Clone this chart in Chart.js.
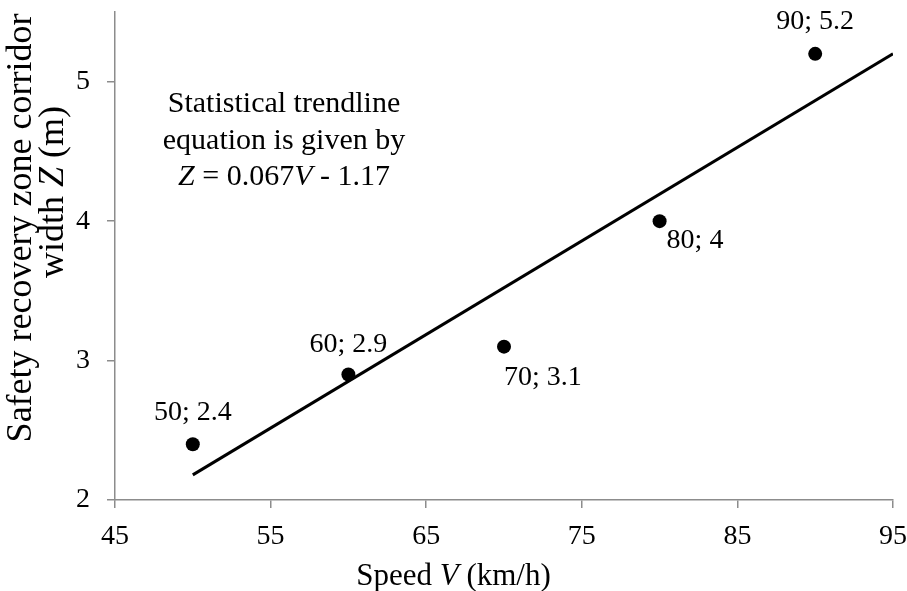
<!DOCTYPE html>
<html>
<head>
<meta charset="utf-8">
<script src="https://cdn.jsdelivr.net/npm/chart.js@4"></script>
<style>
  html, body { margin: 0; padding: 0; background: #fff; }
  #wrap { width: 907px; height: 591px; }
</style>
</head>
<body>
<div id="wrap"><canvas id="grafico" width="907" height="591"></canvas></div>
<script>
'use strict';

// Valori
const speedV = [50, 60, 70, 80, 90];
const widthZ = [2.4, 2.9, 3.1, 4, 5.2];
const pointLabels = ['50; 2.4', '60; 2.9', '70; 3.1', '80; 4', '90; 5.2'];

// Trendline Z = 0.067V - 1.17 (estremi come nel grafico)
const trendV = [50, 95];
const trendZ = [2.18, 5.2];

const xTicks = [45, 55, 65, 75, 85, 95];
const yTicks = [2, 3, 4, 5];

// Testi
const noteLines = ['Statistical trendline', 'equation is given by'];
const noteEquation = [['Z', true], [' = 0.067', false], ['V', true], [' - 1.17', false]];
const xTitle = [['Speed ', false], ['V', true], [' (km/h)', false]];
const yTitle1 = [['Safety recovery zone corridor', false]];
const yTitle2 = [['width ', false], ['Z', true], [' (m)', false]];

// Stile
const FONT = "'Liberation Serif', 'Times New Roman', serif";
const axisGray = '#8c8c8c';
const labelAlign = ['center', 'center', 'left', 'left', 'center'];
const labelDx = [0, 0, 0, 7, 0];
const labelDy = [-24, -23, 38, 27, -25];

// Testo con parti in corsivo
function drawRich(ctx, parts, x, y, size, align) {
  const fonts = parts.map(p => (p[1] ? 'italic ' : '') + size + 'px ' + FONT);
  let total = 0;
  const widths = parts.map((p, i) => { ctx.font = fonts[i]; const w = ctx.measureText(p[0]).width; total += w; return w; });
  let cx = align === 'center' ? x - total / 2 : (align === 'right' ? x - total : x);
  ctx.textAlign = 'left';
  ctx.textBaseline = 'alphabetic';
  parts.forEach((p, i) => {
    ctx.font = fonts[i];
    ctx.fillText(p[0], cx, y);
    cx += widths[i];
  });
}

const textPlugin = {
  id: 'testi',
  afterDatasetsDraw(chart) {
    const ctx = chart.ctx;
    const area = chart.chartArea;
    ctx.save();
    ctx.fillStyle = '#000';

    // etichette dei punti
    const meta = chart.getDatasetMeta(1);
    meta.data.forEach((pt, i) => {
      ctx.font = '28px ' + FONT;
      ctx.textAlign = labelAlign[i];
      ctx.textBaseline = 'alphabetic';
      ctx.fillText(pointLabels[i], pt.x + labelDx[i], pt.y + labelDy[i]);
    });

    // nota con l'equazione
    const nx = area.left + 169;
    ctx.font = '30px ' + FONT;
    ctx.textAlign = 'center';
    ctx.fillText(noteLines[0], nx, 112);
    ctx.fillText(noteLines[1], nx, 149);
    drawRich(ctx, noteEquation, nx, 185, 30, 'center');

    // titolo asse x
    drawRich(ctx, xTitle, chart.width / 2, 585, 31, 'center');

    // titolo asse y (ruotato)
    ctx.rotate(-Math.PI / 2);
    drawRich(ctx, yTitle1, -228, 31, 36, 'center');
    drawRich(ctx, yTitle2, -192, 63, 36, 'center');
    ctx.restore();
  }
};

const ctxCanvas = document.getElementById('grafico').getContext('2d');

new Chart(ctxCanvas, {
  type: 'scatter',
  data: {
    datasets: [
      {
        type: 'line',
        label: 'Trend',
        data: trendV.map((v, i) => ({ x: v, y: trendZ[i] })),
        borderColor: '#000',
        borderWidth: 3,
        pointRadius: 0,
        fill: false,
        order: 2
      },
      {
        label: 'Z',
        data: speedV.map((v, i) => ({ x: v, y: widthZ[i] })),
        backgroundColor: '#000',
        borderWidth: 0,
        pointRadius: 7,
        order: 1
      }
    ]
  },
  options: {
    responsive: false,
    animation: false,
    layout: { padding: { top: 12, right: 14, left: 0, bottom: 0 } },
    plugins: {
      legend: { display: false },
      tooltip: { enabled: false }
    },
    scales: {
      x: {
        type: 'linear',
        min: 45,
        max: 95,
        afterBuildTicks: s => { s.ticks = xTicks.map(v => ({ value: v })); },
        afterFit: s => { s.height = 91; s.paddingLeft = 0; s.paddingRight = 0; },
        border: { display: true, color: axisGray, width: 1.5 },
        grid: { drawOnChartArea: false, drawTicks: true, tickLength: 8, color: axisGray, lineWidth: 1.5 },
        ticks: { color: '#000', font: { family: FONT, size: 28 }, padding: 12, maxRotation: 0 }
      },
      y: {
        type: 'linear',
        min: 2,
        max: 5.5,
        afterBuildTicks: s => { s.ticks = yTicks.map(v => ({ value: v })); },
        afterFit: s => { s.width = 115; s.paddingTop = 0; s.paddingBottom = 0; },
        border: { display: true, color: axisGray, width: 1.5 },
        grid: { drawOnChartArea: false, drawTicks: true, tickLength: 8, color: axisGray, lineWidth: 1.5 },
        ticks: { color: '#000', font: { family: FONT, size: 28 }, padding: 17 }
      }
    }
  },
  plugins: [textPlugin]
});
</script>
</body>
</html>
